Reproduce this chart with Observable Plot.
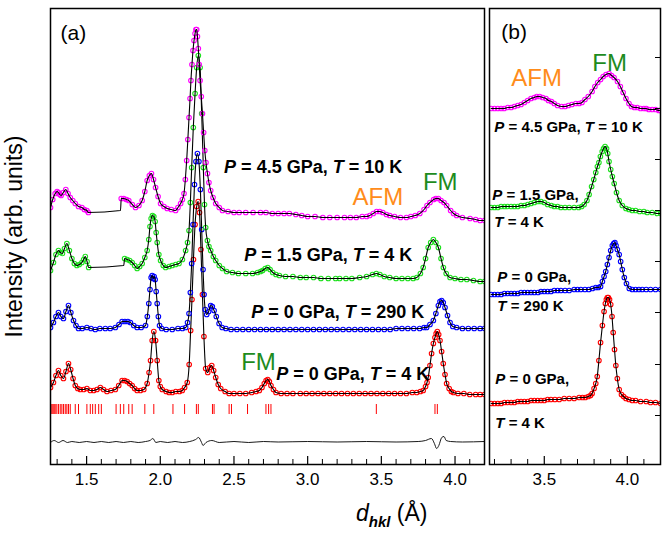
<!DOCTYPE html>
<html><head><meta charset="utf-8">
<script src="https://cdn.jsdelivr.net/npm/d3@7"></script>
<script src="https://cdn.jsdelivr.net/npm/@observablehq/plot@0.6"></script>
<style>
body{margin:0;background:#fff;}
#wrap{position:relative;width:665px;height:534px;font-family:"Liberation Sans",Arial,sans-serif;overflow:hidden;}
#wrap svg{position:absolute;top:0;}
#xlab{position:absolute;left:356px;top:502px;font-size:23px;line-height:1;white-space:nowrap;color:#000;}
#xlab .sub{position:relative;top:6px;font-size:15px;font-weight:bold;font-style:italic;}
</style></head><body>
<div id="wrap"><div id="xlab"><i>d</i><span class="sub">hkl</span> (Å)</div></div>
<script>
// ---------- data (d in Å, intensity in arb. units incl. stacking offset) ----------
const xDomainA = [1.255, 4.2];
const xDomainB = [3.17, 4.2];
const yDomain = [0, 456];
const majorA = [1.5, 2.0, 2.5, 3.0, 3.5, 4.0];
const minorA = [1.3,1.4,1.6,1.7,1.8,1.9,2.1,2.2,2.3,2.4,2.6,2.7,2.8,2.9,3.1,3.2,3.3,3.4,3.6,3.7,3.8,3.9,4.1];
const majorB = [3.5, 4.0];
const minorB = [3.2,3.3,3.4,3.6,3.7,3.8,3.9,4.1];
const yTicksB = [49, 100, 152, 203, 254, 305, 356, 407];

const redA = [[1.255,77],[1.275,82],[1.292,89],[1.309,94],[1.325,89],[1.343,86],[1.36,93],[1.377,101],[1.392,95],[1.408,86],[1.423,79],[1.44,76],[1.457,75],[1.48,75],[1.502,76],[1.525,74],[1.548,74],[1.57,75],[1.593,77],[1.615,75],[1.638,73],[1.665,74],[1.695,75],[1.718,79],[1.741,84],[1.758,84],[1.775,83],[1.792,81],[1.809,79],[1.826,76],[1.843,74],[1.865,74],[1.888,75],[1.911,81],[1.924,92],[1.934,104],[1.945,124],[1.956,133],[1.968,124],[1.979,104],[1.99,84],[2.0,78],[2.013,75],[2.04,73],[2.06,72],[2.081,72],[2.105,73],[2.13,73],[2.149,74],[2.165,77],[2.183,82],[2.196,100],[2.206,134],[2.215,165],[2.225,205],[2.236,240],[2.247,258],[2.257,263],[2.266,252],[2.276,215],[2.286,170],[2.296,128],[2.308,96],[2.322,92],[2.336,97],[2.349,99],[2.362,94],[2.376,87],[2.393,80],[2.41,76],[2.44,73],[2.467,71],[2.5,71],[2.54,71],[2.58,71],[2.62,72],[2.65,73],[2.672,74],[2.69,77],[2.706,81],[2.718,84],[2.729,85],[2.74,83],[2.751,79],[2.768,75],[2.785,72],[2.82,71],[2.86,71],[2.9,71],[2.95,71],[2.99,71],[3.03,71],[3.07,71],[3.11,71],[3.15,71],[3.19,71],[3.23,71],[3.27,71],[3.31,71],[3.35,71],[3.39,71],[3.43,71],[3.47,71],[3.51,71],[3.55,71],[3.59,71],[3.63,71],[3.67,71],[3.71,72],[3.74,72],[3.765,73],[3.784,74],[3.8,78],[3.81,82],[3.818,87],[3.83,99],[3.841,111],[3.853,121],[3.864,127],[3.872,131],[3.88,133],[3.889,130],[3.898,124],[3.909,113],[3.92,101],[3.932,90],[3.943,81],[3.96,76],[3.975,73],[3.989,72],[4.02,71],[4.06,71],[4.1,70],[4.14,70],[4.17,70],[4.2,70]];

const blueA = [[1.255,137],[1.275,142],[1.292,148],[1.309,152],[1.325,148],[1.343,146],[1.36,153],[1.377,159],[1.393,152],[1.411,144],[1.428,139],[1.445,136],[1.47,136],[1.502,137],[1.53,136],[1.559,135],[1.59,136],[1.627,136],[1.66,136],[1.695,137],[1.72,140],[1.741,143],[1.76,143],[1.78,143],[1.797,142],[1.82,139],[1.843,137],[1.87,137],[1.9,139],[1.912,148],[1.922,161],[1.93,175],[1.938,187],[1.945,189],[1.952,186],[1.958,188],[1.965,185],[1.972,173],[1.979,161],[1.987,148],[1.995,139],[2.01,136],[2.04,135],[2.081,135],[2.12,136],[2.15,136],[2.172,137],[2.185,142],[2.195,151],[2.204,172],[2.213,201],[2.222,240],[2.232,280],[2.242,303],[2.252,311],[2.262,303],[2.272,275],[2.281,235],[2.29,195],[2.297,170],[2.305,155],[2.315,150],[2.328,153],[2.342,159],[2.353,158],[2.365,154],[2.38,148],[2.399,141],[2.42,137],[2.445,136],[2.48,135],[2.52,135],[2.56,135],[2.6,135],[2.64,135],[2.68,135],[2.72,135],[2.76,135],[2.8,135],[2.84,135],[2.88,135],[2.92,135],[2.96,135],[3.0,135],[3.04,135],[3.08,135],[3.12,135],[3.16,135],[3.2,135],[3.24,135],[3.28,135],[3.32,135],[3.36,135],[3.4,135],[3.44,135],[3.48,135],[3.52,135],[3.56,135],[3.6,136],[3.64,136],[3.68,136],[3.72,136],[3.76,136],[3.79,137],[3.807,137],[3.83,140],[3.853,144],[3.87,151],[3.887,159],[3.898,163],[3.909,164],[3.92,162],[3.932,157],[3.949,149],[3.966,142],[3.985,138],[4.011,137],[4.05,136],[4.09,136],[4.13,136],[4.17,136],[4.2,136]];

const greenA = [[1.255,194],[1.275,202],[1.292,210],[1.309,214],[1.322,212],[1.336,211],[1.35,216],[1.366,221],[1.383,214],[1.4,206],[1.417,201],[1.434,199],[1.45,200],[1.468,202],[1.48,205],[1.491,208],[1.503,203],[1.514,197],[1.758,206],[1.775,205],[1.792,204],[1.809,202],[1.826,199],[1.843,196],[1.86,198],[1.877,201],[1.895,207],[1.911,214],[1.922,225],[1.93,238],[1.938,246],[1.947,249],[1.956,248],[1.965,243],[1.972,232],[1.979,222],[1.99,210],[2.002,204],[2.02,199],[2.036,197],[2.06,198],[2.081,199],[2.104,200],[2.127,201],[2.15,205],[2.172,214],[2.185,222],[2.195,234],[2.204,262],[2.213,297],[2.224,337],[2.236,371],[2.247,397],[2.258,409],[2.27,397],[2.281,351],[2.292,297],[2.3,260],[2.308,237],[2.32,224],[2.33,218],[2.342,214],[2.36,208],[2.376,204],[2.4,199],[2.422,196],[2.45,193],[2.49,192],[2.53,191],[2.58,191],[2.626,191],[2.66,192],[2.68,193],[2.694,194],[2.712,196],[2.729,197],[2.745,195],[2.763,192],[2.785,190],[2.808,189],[2.85,188],[2.9,188],[2.95,187],[2.99,187],[3.04,187],[3.09,186],[3.14,186],[3.19,186],[3.217,186],[3.26,186],[3.3,186],[3.353,187],[3.4,188],[3.44,190],[3.466,191],[3.49,190],[3.52,188],[3.557,187],[3.6,186],[3.64,186],[3.68,186],[3.716,186],[3.74,187],[3.765,191],[3.784,197],[3.8,206],[3.818,217],[3.835,222],[3.853,225],[3.87,222],[3.887,217],[3.905,206],[3.921,197],[3.94,191],[3.966,187],[4.0,186],[4.04,185],[4.08,185],[4.125,184],[4.17,183],[4.2,183]];
const greenBridge = [[1.752,199]];

const magentaA = [[1.255,257],[1.27,265],[1.287,271],[1.3,273],[1.309,272],[1.318,270],[1.327,269],[1.342,272],[1.359,275],[1.374,271],[1.389,267],[1.406,264],[1.423,261],[1.445,258],[1.468,257],[1.485,255],[1.502,254],[1.512,252],[1.735,266],[1.752,266],[1.77,265],[1.786,264],[1.81,260],[1.832,257],[1.855,259],[1.877,264],[1.895,273],[1.911,284],[1.926,289],[1.94,291],[1.954,285],[1.968,277],[1.985,268],[2.002,261],[2.025,258],[2.047,256],[2.075,255],[2.104,254],[2.12,257],[2.138,261],[2.15,265],[2.161,271],[2.17,285],[2.179,304],[2.187,325],[2.195,347],[2.202,366],[2.208,384],[2.215,400],[2.222,414],[2.229,424],[2.236,431],[2.242,435],[2.247,435],[2.252,428],[2.258,416],[2.264,400],[2.27,384],[2.278,368],[2.286,351],[2.294,332],[2.302,314],[2.31,302],[2.32,291],[2.33,282],[2.342,274],[2.358,267],[2.376,261],[2.4,257],[2.422,254],[2.46,253],[2.5,252],[2.535,252],[2.58,252],[2.63,252],[2.68,252],[2.717,252],[2.76,251],[2.8,251],[2.84,251],[2.876,251],[2.92,250],[2.96,249],[3.0,248],[3.05,248],[3.103,247],[3.15,247],[3.2,247],[3.25,247],[3.29,247],[3.33,247],[3.37,248],[3.4,248],[3.421,249],[3.445,251],[3.468,253],[3.489,253],[3.51,252],[3.535,250],[3.557,249],[3.59,248],[3.63,247],[3.67,247],[3.7,248],[3.73,249],[3.761,251],[3.79,255],[3.81,259],[3.83,262],[3.855,265],[3.87,266],[3.887,266],[3.905,264],[3.925,262],[3.943,259],[3.97,254],[3.99,251],[4.011,249],[4.05,247],[4.102,246],[4.14,245],[4.17,244],[4.2,244]];
const magentaBridge = [[1.73,254]];

const diffA = [[1.255,22],[1.28,24],[1.31,22],[1.34,24],[1.37,22],[1.4,23],[1.45,22],[1.5,23],[1.55,22],[1.6,23],[1.65,22],[1.7,23],[1.75,22],[1.8,23],[1.85,22],[1.9,23],[1.93,24],[1.95,26],[1.97,22],[2.0,23],[2.05,22],[2.1,23],[2.15,22],[2.2,23],[2.24,25],[2.26,27],[2.28,22],[2.29,19],[2.31,22],[2.35,24],[2.4,22],[2.5,23],[2.6,22],[2.7,23],[2.8,22.5],[3.0,23],[3.2,22.5],[3.4,23],[3.6,22.5],[3.75,23],[3.8,24],[3.84,26],[3.86,21],[3.875,16],[3.89,19],[3.91,27],[3.925,28],[3.94,24],[3.97,23],[4.05,22.5],[4.2,23]];

const braggA = [1.259,1.266,1.273,1.28,1.287,1.298,1.309,1.321,1.332,1.343,1.355,1.366,1.377,1.389,1.423,1.445,1.502,1.525,1.541,1.559,1.582,1.6,1.7,1.729,1.752,1.786,1.809,1.895,1.956,2.086,2.165,2.245,2.258,2.354,2.365,2.467,2.483,2.592,2.717,2.735,2.751,3.466,3.864,3.88];
const braggRow = [50, 60];

const magentaB = [[3.18,356],[3.2,356],[3.22,356],[3.24,356],[3.258,356],[3.28,357],[3.3,357],[3.32,358],[3.34,359],[3.36,360],[3.38,362],[3.4,364],[3.42,366],[3.44,367],[3.455,368],[3.472,368],[3.49,367],[3.51,366],[3.525,364],[3.543,363],[3.56,361],[3.58,359],[3.605,358],[3.625,358],[3.645,359],[3.666,360],[3.69,361],[3.71,361],[3.727,362],[3.745,365],[3.765,368],[3.788,373],[3.805,378],[3.822,382],[3.839,385],[3.855,388],[3.872,390],[3.89,391],[3.905,389],[3.92,387],[3.941,383],[3.958,378],[3.975,372],[3.992,366],[4.01,361],[4.025,358],[4.043,357],[4.06,357],[4.08,356],[4.1,356],[4.114,356],[4.13,355],[4.15,355],[4.17,355],[4.19,354],[4.2,354]];
const greenB = [[3.18,257],[3.2,257],[3.22,257],[3.24,258],[3.26,258],[3.278,258],[3.3,258],[3.32,258],[3.34,258],[3.36,259],[3.38,259],[3.4,260],[3.42,261],[3.44,262],[3.462,263],[3.48,263],[3.5,262],[3.52,260],[3.543,259],[3.56,258],[3.58,258],[3.6,257],[3.625,257],[3.65,257],[3.68,257],[3.707,257],[3.725,258],[3.74,260],[3.757,264],[3.77,270],[3.785,278],[3.798,285],[3.81,292],[3.82,298],[3.829,302],[3.838,308],[3.849,313],[3.857,316],[3.866,318],[3.875,316],[3.882,311],[3.89,303],[3.9,295],[3.91,288],[3.921,281],[3.935,272],[3.951,264],[3.97,259],[3.992,256],[4.01,255],[4.03,254],[4.05,254],[4.074,253],[4.1,253],[4.12,252],[4.15,252],[4.18,251],[4.2,251]];
const blueB = [[3.18,170],[3.2,170],[3.22,170],[3.24,170],[3.26,171],[3.28,171],[3.3,171],[3.32,171],[3.34,171],[3.36,172],[3.38,172],[3.4,172],[3.42,172],[3.44,172],[3.462,172],[3.48,173],[3.5,173],[3.52,173],[3.54,173],[3.56,174],[3.58,174],[3.6,174],[3.625,174],[3.65,174],[3.68,175],[3.7,175],[3.72,175],[3.745,175],[3.768,175],[3.79,176],[3.81,177],[3.825,177],[3.839,178],[3.85,183],[3.86,188],[3.87,193],[3.88,200],[3.89,207],[3.9,214],[3.91,219],[3.918,221],[3.925,222],[3.932,219],[3.94,215],[3.951,210],[3.96,203],[3.97,195],[3.982,187],[3.995,181],[4.012,176],[4.03,175],[4.05,175],[4.07,175],[4.09,175],[4.114,175],[4.14,175],[4.17,175],[4.2,175]];
const redB = [[3.18,61],[3.2,61],[3.22,61],[3.24,61],[3.26,62],[3.28,62],[3.3,62],[3.32,62],[3.34,63],[3.36,63],[3.38,63],[3.4,63],[3.42,64],[3.44,64],[3.46,64],[3.48,64],[3.5,64],[3.52,65],[3.54,65],[3.564,65],[3.59,65],[3.62,66],[3.65,66],[3.68,66],[3.71,67],[3.73,67],[3.747,67],[3.765,68],[3.778,69],[3.788,71],[3.8,76],[3.81,81],[3.819,88],[3.829,104],[3.839,122],[3.85,139],[3.86,153],[3.868,161],[3.874,165],[3.88,167],[3.886,167],[3.893,165],[3.9,160],[3.908,148],[3.915,132],[3.923,115],[3.931,99],[3.94,86],[3.951,75],[3.965,70],[3.978,68],[3.992,66],[4.01,65],[4.03,64],[4.05,64],[4.08,63],[4.114,63],[4.14,62],[4.17,62],[4.2,61]];

const stateA = [
  {t:"P = 4.5 GPa, T = 10 K", x:2.433, y:297},
  {t:"P = 1.5 GPa, T = 4 K", x:2.569, y:209},
  {t:"P = 0 GPa, T = 290 K", x:2.617, y:152},
  {t:"P = 0 GPa, T = 4 K", x:2.787, y:90}
];
const orderA = [
  {t:"AFM", x:3.305, y:267, c:"afm"},
  {t:"FM", x:3.782, y:282, c:"fm"},
  {t:"FM", x:2.549, y:102, c:"fm"}
];
const stateB = [
  {t:"P = 4.5 GPa, T = 10 K", x:3.199, y:337},
  {t:"P = 1.5 GPa,", x:3.187, y:269},
  {t:"T = 4 K", x:3.199, y:242},
  {t:"P = 0 GPa,", x:3.217, y:187},
  {t:"T = 290 K", x:3.217, y:158},
  {t:"P = 0 GPa,", x:3.205, y:85},
  {t:"T = 4 K", x:3.205, y:41}
];
const orderB = [
  {t:"AFM", x:3.301, y:386, c:"afm"},
  {t:"FM", x:3.789, y:401, c:"fm"}
];
const panelLabels = [{t:"(a)", x:1.323, y:431}, {t:"(b)", x:3.241, y:432}];

// ---------- styling ----------
const FONT = '"Liberation Sans", Arial, Helvetica, sans-serif';
const COL = {red:"#ff0000", blue:"#0000ff", green:"#1fe01f", magenta:"#ff00ff", afm:"#ff8c1a", fm:"#1e8c1e"};

function seriesMarks(obs, bridge, color){
  const line = bridge ? obs.concat(bridge).sort((a,b)=>a[0]-b[0]) : obs;
  return [
    Plot.dot(obs, {x:d=>d[0], y:d=>d[1], r:2.3, stroke:color, strokeWidth:1.1, fill:"none", clip:true}),
    Plot.line(line, {x:d=>d[0], y:d=>d[1], stroke:"black", strokeWidth:1.1, curve:"monotone-x", clip:true})
  ];
}
function axisMarks(major, minor, h){
  return [
    Plot.tickX(minor, {x:d=>d, insetTop:h-5, stroke:"black", strokeWidth:1}),
    Plot.tickX(major, {x:d=>d, insetTop:h-8, stroke:"black", strokeWidth:1.2}),
    Plot.axisX({ticks:major, tickSize:0, tickPadding:8, tickFormat:d3.format(".1f"), fontSize:17, label:null})
  ];
}
function textMarks(state, order, lab, stateSize){
  return [
    Plot.text(state, {x:"x", y:"y", text:"t", textAnchor:"start", lineAnchor:"middle", fontSize:stateSize, fontWeight:"bold", fill:"black"}),
    Plot.text(order, {x:"x", y:"y", text:"t", textAnchor:"start", lineAnchor:"middle", fontSize:24, fill:d=>COL[d.c]}),
    Plot.text([lab], {x:"x", y:"y", text:"t", textAnchor:"start", lineAnchor:"middle", fontSize:21, fill:"black"})
  ];
}
function italicize(svg){
  svg.querySelectorAll("text").forEach(t=>{
    const s = t.textContent;
    if (!/[PT] = /.test(s) || t.querySelector("tspan")) return;
    const parts = s.split(/([PT])(?= =)/);
    while (t.firstChild) t.removeChild(t.firstChild);
    parts.forEach((p,i)=>{
      if (!p) return;
      const ts = document.createElementNS("http://www.w3.org/2000/svg","tspan");
      if (i % 2 === 1) ts.setAttribute("font-style","italic");
      ts.textContent = p;
      t.appendChild(ts);
    });
  });
}
const H = 456;
const common = {height:534, marginTop:8, marginBottom:70,
  y:{domain:yDomain, axis:null, label:null},
  style:{fontFamily:FONT, fontSize:"16px", background:"transparent", overflow:"visible", color:"black"}};

const plotA = Plot.plot({...common, width:486, marginLeft:50, marginRight:2,
  x:{domain:xDomainA, label:null},
  marks:[
    Plot.ruleX(braggA, {x:d=>d, y1:()=>braggRow[0], y2:()=>braggRow[1], stroke:"#ff0000", strokeWidth:1}),
    Plot.line(diffA, {x:d=>d[0], y:d=>d[1], stroke:"black", strokeWidth:0.9, curve:"monotone-x"}),
    ...seriesMarks(redA, null, COL.red),
    ...seriesMarks(blueA, null, COL.blue),
    ...seriesMarks(greenA, greenBridge, COL.green),
    ...seriesMarks(magentaA, magentaBridge, COL.magenta),
    ...textMarks(stateA, orderA, panelLabels[0], 18),
    ...axisMarks(majorA, minorA, H),
    Plot.text(["Intensity (arb. units)"], {frameAnchor:"left", dx:-36, rotate:-90, textAnchor:"middle", lineAnchor:"middle", fontSize:23, fill:"black"}),
    Plot.frame({stroke:"black", strokeWidth:1.5})
  ]});

const plotB = Plot.plot({...common, width:175, marginLeft:2, marginRight:2,
  x:{domain:xDomainB, label:null},
  marks:[
    ...seriesMarks(redB, null, COL.red),
    ...seriesMarks(blueB, null, COL.blue),
    ...seriesMarks(greenB, null, COL.green),
    ...seriesMarks(magentaB, null, COL.magenta),
    ...textMarks(stateB, orderB, panelLabels[1], 15),
    ...axisMarks(majorB, minorB, H),
    Plot.tickY(yTicksB, {y:d=>d, insetLeft:171-5, stroke:"black", strokeWidth:1}),
    Plot.frame({stroke:"black", strokeWidth:1.5})
  ]});

italicize(plotA); italicize(plotB);
plotA.style.left = "0px";
plotB.style.left = "487px";
const wrap = document.getElementById("wrap");
wrap.appendChild(plotA);
wrap.appendChild(plotB);
</script>
</body></html>
